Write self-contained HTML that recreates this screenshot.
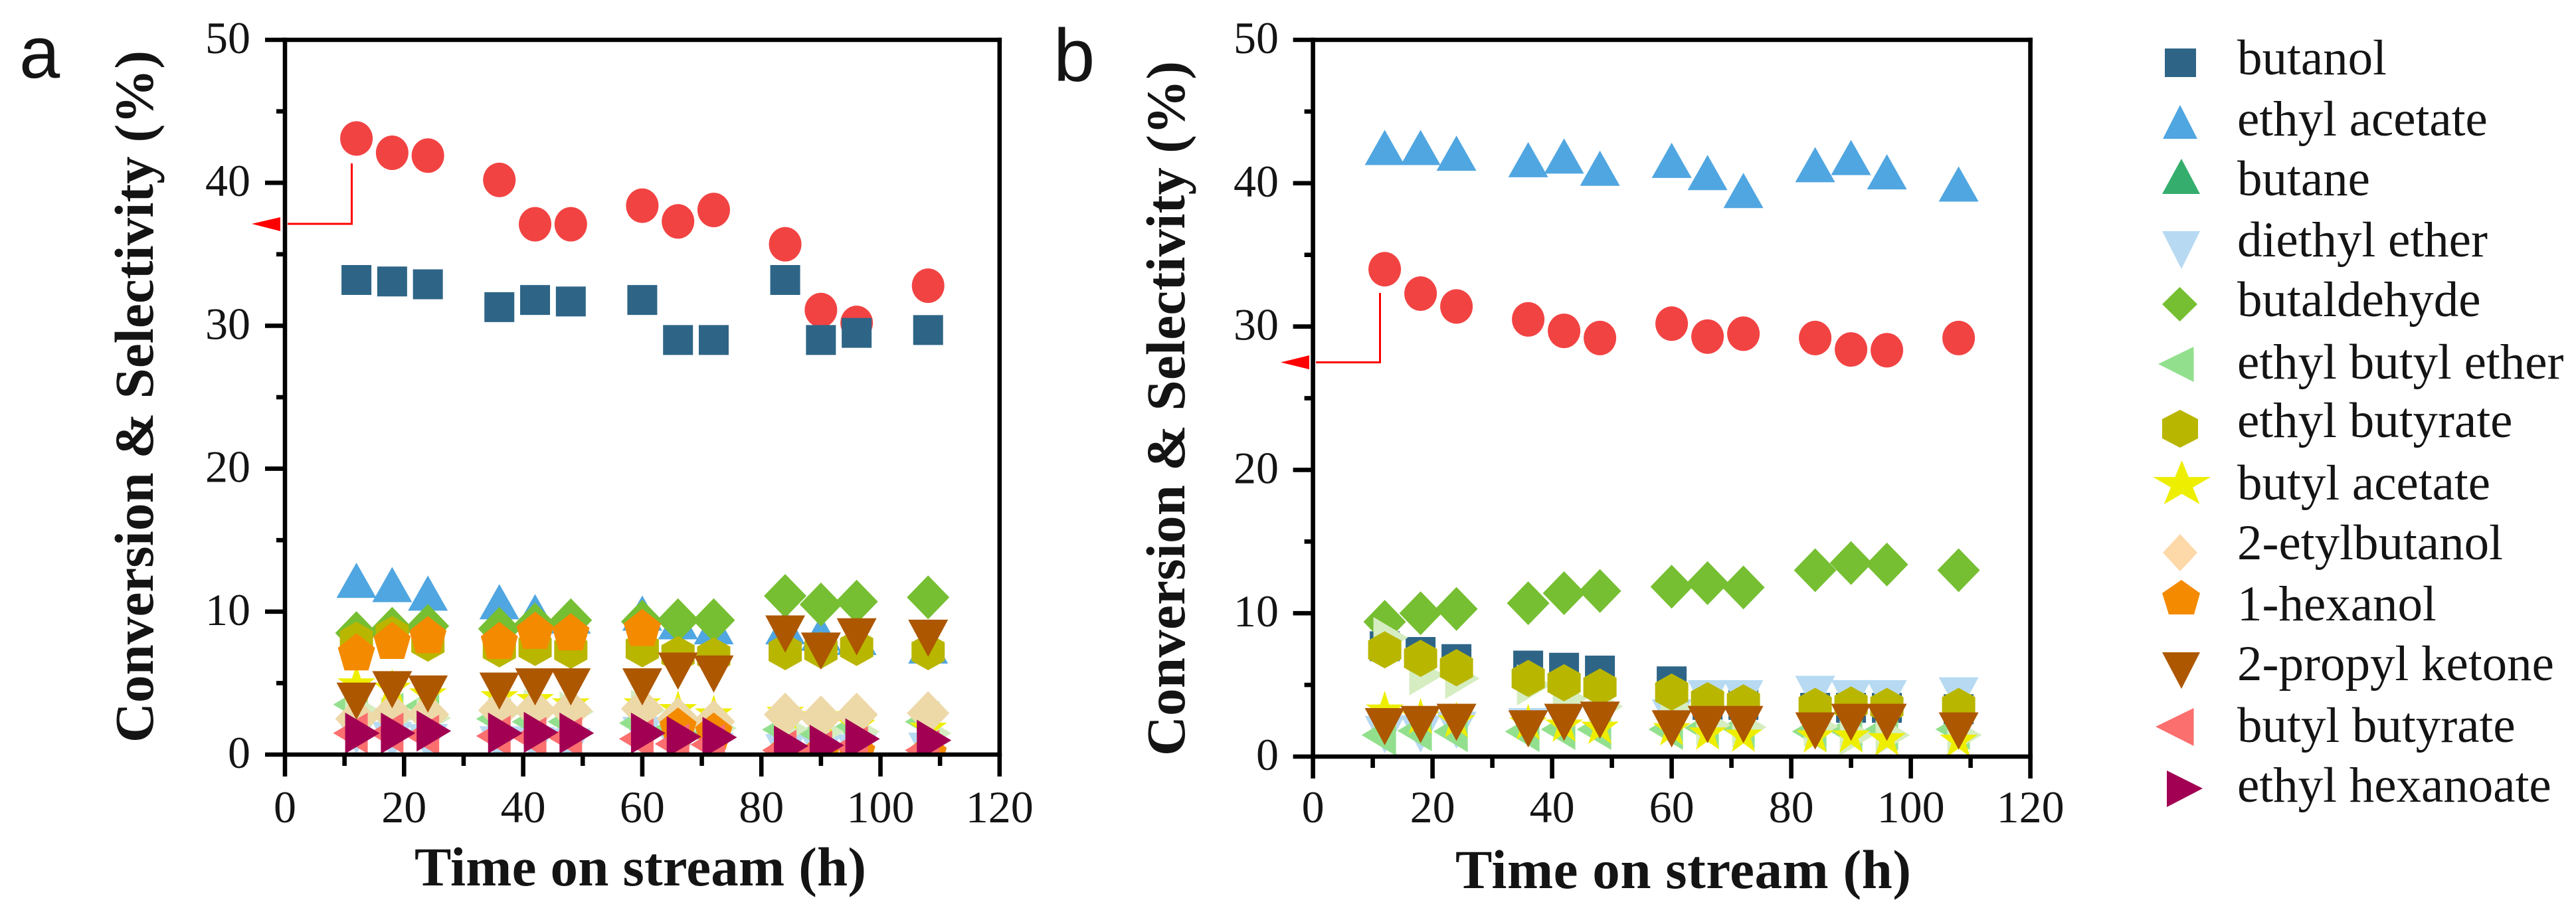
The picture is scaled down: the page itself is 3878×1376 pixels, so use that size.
<!DOCTYPE html>
<html lang="en">
<head>
<meta charset="utf-8">
<title>Conversion and selectivity vs time on stream</title>
<style>
html,body{margin:0;padding:0;background:#fff}
svg{display:block}
text{font-family:"Liberation Serif",serif;fill:#141414}
.tick{font-size:68px}
.title{font-size:83px;font-weight:bold}
.legend{font-size:75px}
.panel{font-family:"Liberation Sans",sans-serif;font-size:112px}
</style>
</head>
<body>
<svg id="figure" xmlns="http://www.w3.org/2000/svg" width="3878" height="1376" viewBox="0 0 3878 1376">
<rect width="3878" height="1376" fill="#fff"/>
<defs>
<clipPath id="clip-a"><rect x="429" y="60" width="1076" height="1076"/></clipPath>
<clipPath id="clip-b"><rect x="1976.6" y="60" width="1080" height="1079"/></clipPath>
</defs>
<text class="panel" x="29" y="117" style="font-size:110px">a</text>
<text class="panel" x="1586" y="122">b</text>

<g id="plot-a"></g>
<g id="plot-b"></g>

<g transform="translate(230,1118) rotate(-90)"><text class="title" x="0" y="0" textLength="1042" lengthAdjust="spacing">Conversion &amp; Selectivity (%)</text></g>
<text class="title" x="624" y="1333" textLength="680" lengthAdjust="spacing">Time on stream (h)</text>
<g transform="translate(1783,1138) rotate(-90)"><text class="title" x="0" y="0" textLength="1046" lengthAdjust="spacing">Conversion &amp; Selectivity (%)</text></g>
<text class="title" x="2191" y="1337" textLength="686" lengthAdjust="spacing">Time on stream (h)</text>

<g fill="#f00" stroke="none">
<polyline points="529.5,246 529.5,337 433,337" fill="none" stroke="#f00" stroke-width="3"/>
<polygon points="379,337 422,327 422,348"/>
</g>
<g fill="#f00" stroke="none">
<polyline points="2077.5,441 2077.5,545.5 1981,545.5" fill="none" stroke="#f00" stroke-width="3"/>
<polygon points="1928,545.5 1971,535 1971,556"/>
</g>

<g id="legend">
<g><rect x="3259" y="73" width="47" height="43" fill="#2e6587"/><text class="legend" x="3368" y="112">butanol</text></g>
<g><polygon points="3282,158 3308,209 3256,209" fill="#50a6e0"/><text class="legend" x="3368" y="204">ethyl acetate</text></g>
<g><polygon points="3284,239 3312,292 3255,292" fill="#35ae6d"/><text class="legend" x="3368" y="294">butane</text></g>
<g><polygon points="3255,348 3312,348 3284,405" fill="#b7daf2"/><text class="legend" x="3368" y="386">diethyl ether</text></g>
<g><polygon points="3281.5,432 3308,458 3281.5,484 3255,458" fill="#76bf32"/><text class="legend" x="3368" y="476">butaldehyde</text></g>
<g><polygon points="3249,548 3302.5,522 3302.5,575" fill="#92e08e"/><text class="legend" x="3368" y="570">ethyl butyl ether</text></g>
<g><polygon points="3282,617 3309,631 3309,660 3282,674 3255,660 3255,631" fill="#b9b600"/><text class="legend" x="3368" y="658">ethyl butyrate</text></g>
<g><polygon transform="translate(3284.6,729.5) scale(1.527,1.217)" points="0,-30 6.7,-9.3 28.5,-9.3 10.9,3.5 17.6,24.3 0,11.5 -17.6,24.3 -10.9,3.5 -28.5,-9.3 -6.7,-9.3" fill="#eeee00"/><text class="legend" x="3368" y="752">butyl acetate</text></g>
<g><polygon points="3282,804 3308,832 3282,860 3256,832" fill="#fdd8a8"/><text class="legend" x="3368" y="842">2-etylbutanol</text></g>
<g><polygon points="3284,873 3312,893 3303,925 3265,925 3255,893" fill="#f48a00"/><text class="legend" x="3368" y="934">1-hexanol</text></g>
<g><polygon points="3255,982 3312,982 3284,1037" fill="#ad5700"/><text class="legend" x="3368" y="1024">2-propyl ketone</text></g>
<g><polygon points="3245,1094 3302.5,1066 3302.5,1123" fill="#fb6f6f"/><text class="legend" x="3368" y="1117">butyl butyrate</text></g>
<g><polygon points="3316,1187 3262,1160 3262,1215" fill="#a20053"/><text class="legend" x="3368" y="1207">ethyl hexanoate</text></g>
</g>
</svg>

<script>
const timeHours = [12, 18, 24, 36, 42, 48, 60, 66, 72, 84, 90, 96, 108];
const xTickLabels = [0, 20, 40, 60, 80, 100, 120];
const xMinorTicks = [10, 30, 50, 70, 90, 110];
const yTickLabels = [0, 10, 20, 30, 40, 50];
const yMinorTicks = [5, 15, 25, 35, 45];

const aConversion = [43.1, 42.1, 41.9, 40.2, 37.1, 37.1, 38.4, 37.3, 38.1, 35.7, 31.1, 30.2, 32.8];
const aButanol = [33.2, 33.1, 32.9, 31.3, 31.8, 31.7, 31.8, 29.0, 29.0, 33.2, 29.0, 29.5, 29.7];
const aEthylAcetate = [11.8, 11.5, 10.9, 10.3, 9.6, 9.3, 9.5, 8.9, 8.55, 8.55, 8.1, 7.8, 7.2];
const aDiethylEther = [1.8, 1.45, 1.3, 1.15, 1.1, 1.0, 1.8, 0.8, 0.7, 0.6, 0.55, 0.6, 0.7];
const aButaldehyde = [8.5, 8.8, 9.0, 8.8, 9.1, 9.4, 9.3, 9.4, 9.4, 11.1, 10.5, 10.7, 11.0];
const aEthylButylEther = [3.5, 2.9, 3.4, 2.5, 2.3, 2.3, 2.2, 1.9, 1.7, 1.75, 1.5, 1.9, 2.3];
const aUnlabelledPale = [3.1, 2.6, 2.56, 3.0, 3.15, 3.0, 3.1, 1.9, 1.85, 1.8, 1.6, 1.6, 1.5];
const aEthylButyrate = [8.0, 8.4, 7.8, 7.4, 7.5, 7.3, 7.4, 7.0, 6.9, 7.2, 7.3, 7.5, 7.2];
const aButylAcetate = [4.9, 4.6, 4.2, 4.0, 3.8, 3.5, 3.5, 3.1, 2.8, 2.9, 2.6, 2.0, 1.8];
const aEtylbutanol = [2.5, 2.85, 2.8, 3.1, 3.1, 3.1, 3.2, 2.5, 2.3, 2.8, 2.6, 2.8, 2.9];
const aHexanol = [7.1, 7.9, 8.3, 7.9, 8.6, 8.5, 8.8, 1.9, 1.55, 0.1, 0.1, 0.2, 0.1];
const aPropylKetone = [4.2, 5.0, 4.7, 4.9, 5.2, 5.2, 5.2, 6.3, 6.1, 8.9, 7.7, 8.7, 8.6];
const aButylButyrate = [1.5, 1.5, 1.35, 1.3, 1.2, 1.2, 1.1, 0.75, 0.7, 0.3, 0.25, 0.55, 0.3];
const aEthylHexanoate = [1.5, 1.5, 1.65, 1.5, 1.55, 1.5, 1.5, 1.25, 1.2, 0.6, 0.65, 1.1, 1.0];

const bConversion = [34.0, 32.3, 31.4, 30.5, 29.7, 29.2, 30.2, 29.3, 29.5, 29.2, 28.4, 28.35, 29.2];
const bButanol = [7.7, 7.3, 6.8, 6.35, 6.2, 6.0, 5.25, 3.6, 3.6, 3.4, 3.4, 3.4, 3.3];
const bEthylAcetate = [42.1, 42.1, 41.7, 41.25, 41.5, 40.65, 41.2, 40.35, 39.1, 40.9, 41.4, 40.4, 39.55];
const bDiethylEther = [2.0, 2.05, 2.3, 2.55, 2.8, 3.0, 3.15, 4.5, 4.5, 4.8, 4.5, 4.5, 4.7];
const bButaldehyde = [9.4, 10.0, 10.3, 10.7, 11.4, 11.55, 11.85, 12.1, 11.8, 13.0, 13.5, 13.4, 13.0];
const bEthylButylEther = [1.5, 1.8, 1.75, 1.75, 1.9, 1.9, 1.9, 2.0, 2.0, 1.75, 1.85, 1.85, 1.9];
const bUnlabelledPale = [8.3, 5.7, 5.45, 5.0, 4.05, 3.5, 3.4, 2.2, 2.05, 2.1, 1.5, 1.5, 1.5];
const bEthylButyrate = [7.45, 6.85, 6.2, 5.45, 5.15, 4.85, 4.5, 3.9, 3.75, 3.5, 3.6, 3.5, 3.5];
const bButylAcetate = [3.2, 2.7, 2.45, 2.3, 2.15, 2.0, 1.9, 1.6, 1.45, 1.4, 1.4, 1.2, 1.1];
const bPropylKetone = [2.55, 2.7, 2.85, 2.4, 2.85, 3.0, 2.4, 2.7, 2.7, 2.25, 2.85, 2.85, 2.25];

const SVG_NS = 'http://www.w3.org/2000/svg';

/* marker outlines, relative to the data point */
const SHAPES = {
  square: '-22.5,-22.5 22.5,-22.5 22.5,22.5 -22.5,22.5',
  up: '0,-35 30,18 -30,18',
  down: '-30,-18 30,-18 0,38',
  left: '-35,0 17,-31 17,31',
  right: '35,0 -17,-31 -17,31',
  diamond: '0,-33 32,0 0,33 -32,0',
  hexagon: '0,-28 25,-14 25,14 0,28 -25,14 -25,-14',
  pentagon: '0,-30 28,-8 18,26 -18,26 -28,-8',
  star: '0,-30 6.7,-9.3 28.5,-9.3 10.9,3.5 17.6,24.3 0,11.5 -17.6,24.3 -10.9,3.5 -28.5,-9.3 -6.7,-9.3'
};

function makeAxes(x0, xUnit, y0, yUnit) {
  return {
    x: function (v) { return x0 + v * xUnit; },
    y: function (v) { return y0 - v * yUnit; },
    left: x0,
    right: x0 + 120 * xUnit,
    bottom: y0,
    top: y0 - 50 * yUnit
  };
}

function drawSeries(parent, axes, name, values, color, shape) {
  const group = document.createElementNS(SVG_NS, 'g');
  
  
  group.setAttribute('fill', color);
  parent.appendChild(group);
  values.forEach(function (value, i) {
    if (value === null) return;
    const px = axes.x(timeHours[i]);
    const py = axes.y(value);
    let el;
    if (shape === 'circle') {
      el = document.createElementNS(SVG_NS, 'ellipse');
      el.setAttribute('cx', px);
      el.setAttribute('cy', py);
      el.setAttribute('rx', 24.5);
      el.setAttribute('ry', 26);
    } else {
      el = document.createElementNS(SVG_NS, 'polygon');
      el.setAttribute('points', SHAPES[shape]);
      el.setAttribute('transform', 'translate(' + px + ',' + py + ')');
    }
    
    
    group.appendChild(el);
  });
}

function drawLine(parent, x1, y1, x2, y2, width, name) {
  const el = document.createElementNS(SVG_NS, 'line');
  el.setAttribute('x1', x1);
  el.setAttribute('y1', y1);
  el.setAttribute('x2', x2);
  el.setAttribute('y2', y2);
  el.setAttribute('stroke', '#000');
  el.setAttribute('stroke-width', width);
  
  
  parent.appendChild(el);
}

function drawLabel(parent, x, y, anchor, content, name) {
  const el = document.createElementNS(SVG_NS, 'text');
  el.setAttribute('class', 'tick');
  el.setAttribute('x', x);
  el.setAttribute('y', y);
  el.setAttribute('text-anchor', anchor);
  
  
  el.textContent = content;
  parent.appendChild(el);
}

function drawAxes(parent, axes, labelRight, xLabelBaseline) {
  const sw = 6.6;
  const half = sw / 2;
  drawLine(parent, axes.left - half, axes.top, axes.right + half, axes.top, sw, 'top-axis-line');
  drawLine(parent, axes.left - half, axes.bottom, axes.right + half, axes.bottom, sw, 'x-axis-line');
  drawLine(parent, axes.left, axes.top - half, axes.left, axes.bottom + half, sw, 'y-axis-line');
  drawLine(parent, axes.right, axes.top - half, axes.right, axes.bottom + half, sw, 'right-axis-line');
  xTickLabels.forEach(function (t) {
    drawLine(parent, axes.x(t), axes.bottom, axes.x(t), axes.bottom + 33, sw, 'x-tick-' + t);
    drawLabel(parent, axes.x(t), xLabelBaseline, 'middle', String(t), 'x-tick-label-' + t);
  });
  xMinorTicks.forEach(function (t) {
    drawLine(parent, axes.x(t), axes.bottom, axes.x(t), axes.bottom + 17, sw, 'x-minor-tick-' + t);
  });
  yTickLabels.forEach(function (t) {
    drawLine(parent, axes.left - 30, axes.y(t), axes.left, axes.y(t), sw, 'y-tick-' + t);
    drawLabel(parent, labelRight, axes.y(t) + 20, 'end', String(t), 'y-tick-label-' + t);
  });
  yMinorTicks.forEach(function (t) {
    drawLine(parent, axes.left - 13, axes.y(t), axes.left, axes.y(t), sw, 'y-minor-tick-' + t);
  });
}

function makeClipGroup(parent, clipId, name) {
  const group = document.createElementNS(SVG_NS, 'g');
  group.setAttribute('clip-path', 'url(#' + clipId + ')');
  
  
  parent.appendChild(group);
  return group;
}

/* Panel a */
const plotA = document.getElementById('plot-a');
const axesA = makeAxes(429, 8.965, 1136, 21.52);
const marksA = makeClipGroup(plotA, 'clip-a', 'plot-area-a');
drawSeries(marksA, axesA, 'conversion', aConversion, '#f24343', 'circle');
drawSeries(marksA, axesA, 'butanol', aButanol, '#2e6587', 'square');
drawSeries(marksA, axesA, 'ethyl-acetate', aEthylAcetate, '#50a6e0', 'up');
drawSeries(marksA, axesA, 'diethyl-ether', aDiethylEther, '#b7daf2', 'down');
drawSeries(marksA, axesA, 'butaldehyde', aButaldehyde, '#76bf32', 'diamond');
drawSeries(marksA, axesA, 'ethyl-butyl-ether', aEthylButylEther, '#92e08e', 'left');
drawSeries(marksA, axesA, 'unlabelled-pale', aUnlabelledPale, '#d5edc0', 'right');
drawSeries(marksA, axesA, 'ethyl-butyrate', aEthylButyrate, '#b9b600', 'hexagon');
drawSeries(marksA, axesA, 'butyl-acetate', aButylAcetate, '#eeee00', 'star');
drawSeries(marksA, axesA, '2-etylbutanol', aEtylbutanol, '#edd8a8', 'diamond');
drawSeries(marksA, axesA, '1-hexanol', aHexanol, '#f48a00', 'pentagon');
drawSeries(marksA, axesA, '2-propyl-ketone', aPropylKetone, '#ad5700', 'down');
drawSeries(marksA, axesA, 'butyl-butyrate', aButylButyrate, '#fb6f6f', 'left');
drawSeries(marksA, axesA, 'ethyl-hexanoate', aEthylHexanoate, '#a20053', 'right');
drawAxes(plotA, axesA, 377, 1238);

/* Panel b */
const plotB = document.getElementById('plot-b');
const axesB = makeAxes(1976.6, 9.0, 1139, 21.58);
const marksB = makeClipGroup(plotB, 'clip-b', 'plot-area-b');
drawSeries(marksB, axesB, 'conversion', bConversion, '#f24343', 'circle');
drawSeries(marksB, axesB, 'butanol', bButanol, '#2e6587', 'square');
drawSeries(marksB, axesB, 'ethyl-acetate', bEthylAcetate, '#50a6e0', 'up');
drawSeries(marksB, axesB, 'diethyl-ether', bDiethylEther, '#b7daf2', 'down');
drawSeries(marksB, axesB, 'butaldehyde', bButaldehyde, '#76bf32', 'diamond');
drawSeries(marksB, axesB, 'ethyl-butyl-ether', bEthylButylEther, '#92e08e', 'left');
drawSeries(marksB, axesB, 'unlabelled-pale', bUnlabelledPale, '#d5edc0', 'right');
drawSeries(marksB, axesB, 'ethyl-butyrate', bEthylButyrate, '#b9b600', 'hexagon');
drawSeries(marksB, axesB, 'butyl-acetate', bButylAcetate, '#eeee00', 'star');
drawSeries(marksB, axesB, '2-propyl-ketone', bPropylKetone, '#ad5700', 'down');
drawAxes(plotB, axesB, 1925, 1238);
</script>
</body>
</html>
